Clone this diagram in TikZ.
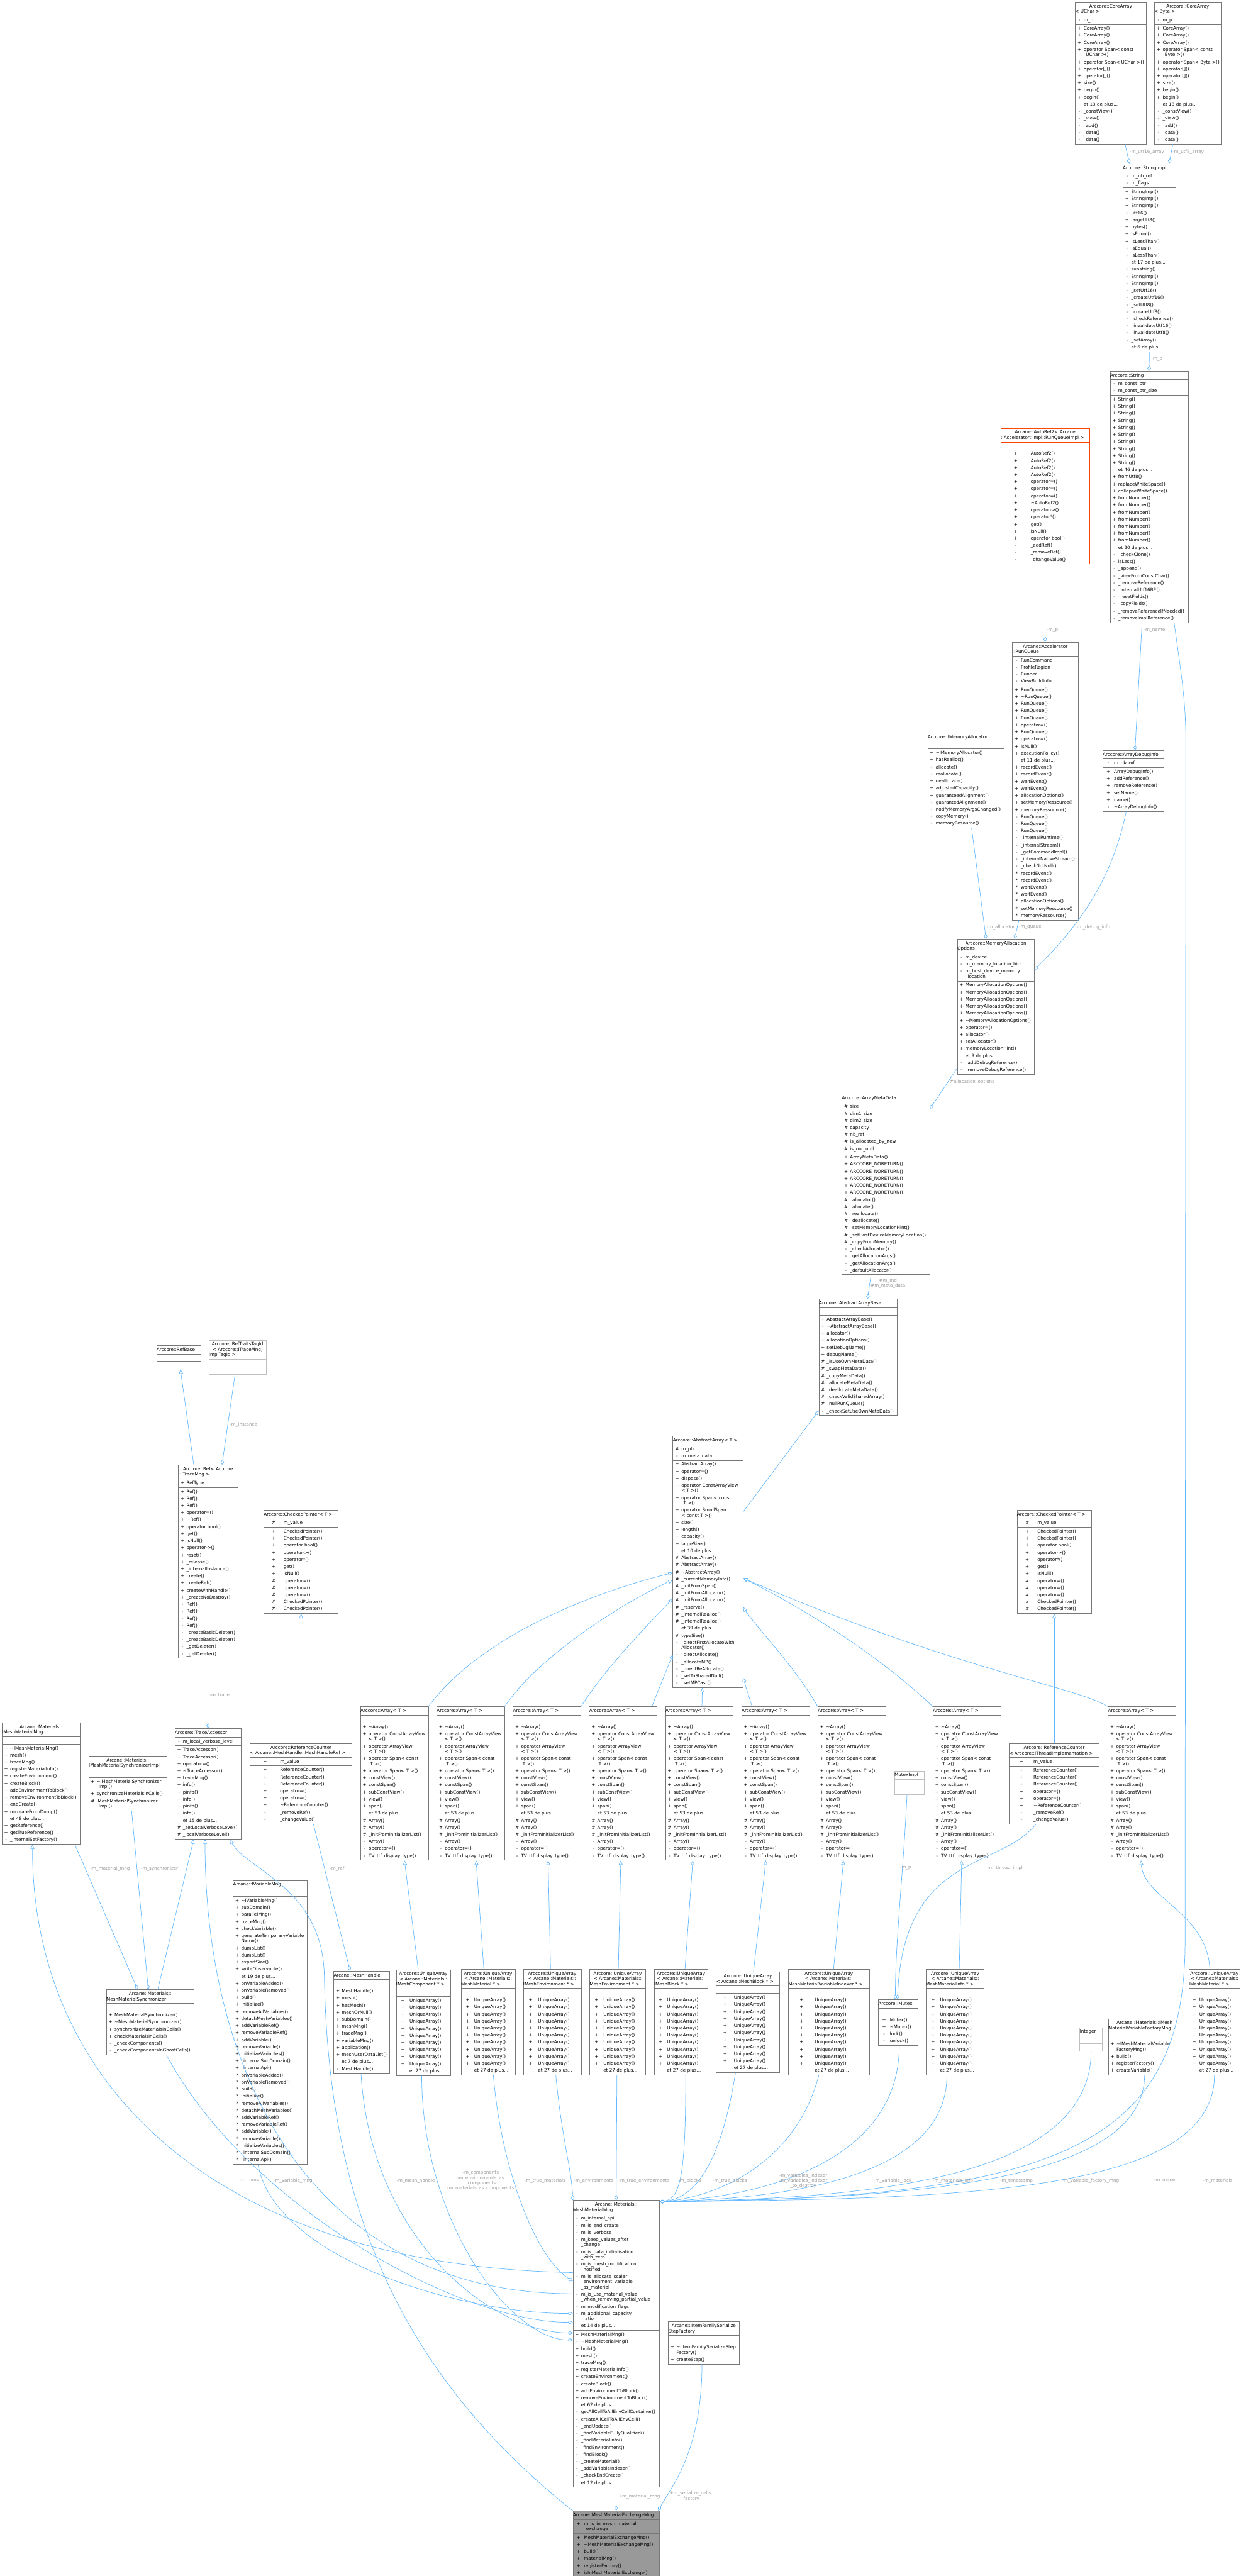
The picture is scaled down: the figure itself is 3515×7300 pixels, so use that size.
\documentclass[tikz,border=0pt]{standalone}
\usepackage{fontspec}
\newfontfamily\dxfont{DejaVu Sans}
\usetikzlibrary{arrows.meta,shapes.multipart}

\definecolor{edgeblue}{HTML}{63B8FF}
\definecolor{lblgrey}{HTML}{9A9A9A}
\definecolor{boxgrey}{HTML}{777777}
\definecolor{rootgrey}{HTML}{999999}
\definecolor{undocgrey}{HTML}{BFBFBF}
\definecolor{truncred}{HTML}{FF4500}

\newlength{\symw}
\newcommand{\mi}[2]{\mbox{\makebox[\symw][c]{#1}#2}\strut}
\newcommand{\mc}[1]{\mbox{\hspace*{\symw}#1}\strut}
\newcommand{\hd}[1]{\centering\strut#1\strut}
\newcommand{\dt}{\textasciitilde}
\newcommand{\nopart}{\rule{0pt}{17pt}}

\newcommand{\arraybody}{%
\mi{+}{\dt Array()}\\
\mi{+}{operator ConstArrayView}\\[-5pt]\mc{< T >()}\\
\mi{+}{operator ArrayView}\\[-5pt]\mc{< T >()}\\
\mi{+}{operator Span< const}\\[-5pt]\mc{\hspace{4pt}T >()}\\
\mi{+}{operator Span< T >()}\\
\mi{+}{constView()}\\
\mi{+}{constSpan()}\\
\mi{+}{subConstView()}\\
\mi{+}{view()}\\
\mi{+}{span()}\\
\mc{et 53 de plus...}\\
\mi{\#}{Array()}\\
\mi{\#}{Array()}\\
\mi{\#}{\_initFromInitializerList()}\\
\mi{-}{Array()}\\
\mi{-}{operator=()}\\
\mi{-}{TV\_ttf\_display\_type()}}

\newcommand{\uabody}{%
\mi{+}{UniqueArray()}\\
\mi{+}{UniqueArray()}\\
\mi{+}{UniqueArray()}\\
\mi{+}{UniqueArray()}\\
\mi{+}{UniqueArray()}\\
\mi{+}{UniqueArray()}\\
\mi{+}{UniqueArray()}\\
\mi{+}{UniqueArray()}\\
\mi{+}{UniqueArray()}\\
\mi{+}{UniqueArray()}\\
\mc{et 27 de plus...}}

\newcommand{\refcntbody}{%
\mi{+}{ReferenceCounter()}\\
\mi{+}{ReferenceCounter()}\\
\mi{+}{ReferenceCounter()}\\
\mi{+}{operator=()}\\
\mi{+}{operator=()}\\
\mi{+}{\dt ReferenceCounter()}\\
\mi{-}{\_removeRef()}\\
\mi{-}{\_changeValue()}}

\newcommand{\chkbody}{%
\mi{+}{CheckedPointer()}\\
\mi{+}{CheckedPointer()}\\
\mi{+}{operator bool()}\\
\mi{+}{operator->()}\\
\mi{+}{operator*()}\\
\mi{+}{get()}\\
\mi{+}{isNull()}\\
\mi{\#}{operator=()}\\
\mi{\#}{operator=()}\\
\mi{\#}{operator=()}\\
\mi{\#}{CheckedPointer()}\\
\mi{\#}{CheckedPointer()}}

\tikzset{
  symw/.code={\setlength{\symw}{#1}},
  cls/.style={rectangle split, rectangle split parts=3, draw=boxgrey, line width=1.2pt,
    inner xsep=0pt, inner ysep=1.5pt, align=left, anchor=north west,
    font=\dxfont\fontsize{12.8}{20}\selectfont},
  undoc/.style={cls, draw=undocgrey},
  trunc/.style={cls, draw=truncred},
  rootcls/.style={cls, fill=rootgrey},
  use/.style={draw=edgeblue, line width=1.3pt, -{Diamond[open, length=15pt, width=10pt]}},
  isa/.style={draw=edgeblue, line width=1.3pt, -{Triangle[open, length=13pt, width=11pt]}},
  lbl/.style={text=lblgrey, font=\dxfont\fontsize{12.8}{15}\selectfont, align=center, inner sep=1pt},
}

\begin{document}
\begin{tikzpicture}[x=1pt, y=-1pt]
\useasboundingbox (0,0) rectangle (3515,7300);

% String side
\node[cls, text width=201pt, symw=24pt] (ca_uchar) at (3046,5) {\hd{Arccore::CoreArray\\[-5pt]< UChar >}
\nodepart{two}\mi{-}{m\_p}
\nodepart{three}\mi{+}{CoreArray()}\\
\mi{+}{CoreArray()}\\
\mi{+}{CoreArray()}\\
\mi{+}{operator Span< const}\\[-5pt]\mc{\hspace{6pt}UChar >()}\\
\mi{+}{operator Span< UChar >()}\\
\mi{+}{operator[]()}\\
\mi{+}{operator[]()}\\
\mi{+}{size()}\\
\mi{+}{begin()}\\
\mi{+}{begin()}\\
\mc{et 13 de plus...}\\
\mi{-}{\_constView()}\\
\mi{-}{\_view()}\\
\mi{-}{\_add()}\\
\mi{-}{\_data()}\\
\mi{-}{\_data()}};

\node[cls, text width=190pt, symw=24pt] (ca_byte) at (3270,5) {\hd{Arccore::CoreArray\\[-5pt]< Byte >}
\nodepart{two}\mi{-}{m\_p}
\nodepart{three}\mi{+}{CoreArray()}\\
\mi{+}{CoreArray()}\\
\mi{+}{CoreArray()}\\
\mi{+}{operator Span< const}\\[-5pt]\mc{\hspace{6pt}Byte >()}\\
\mi{+}{operator Span< Byte >()}\\
\mi{+}{operator[]()}\\
\mi{+}{operator[]()}\\
\mi{+}{size()}\\
\mi{+}{begin()}\\
\mi{+}{begin()}\\
\mc{et 13 de plus...}\\
\mi{-}{\_constView()}\\
\mi{-}{\_view()}\\
\mi{-}{\_add()}\\
\mi{-}{\_data()}\\
\mi{-}{\_data()}};

\node[cls, text width=150pt, symw=24pt] (str_impl) at (3181,463) {\hd{Arccore::StringImpl}
\nodepart{two}\mi{-}{m\_nb\_ref}\\
\mi{-}{m\_flags}
\nodepart{three}\mi{+}{StringImpl()}\\
\mi{+}{StringImpl()}\\
\mi{+}{StringImpl()}\\
\mi{+}{utf16()}\\
\mi{+}{largeUtf8()}\\
\mi{+}{bytes()}\\
\mi{+}{isEqual()}\\
\mi{+}{isLessThan()}\\
\mi{+}{isEqual()}\\
\mi{+}{isLessThan()}\\
\mc{et 17 de plus...}\\
\mi{+}{substring()}\\
\mi{-}{StringImpl()}\\
\mi{-}{StringImpl()}\\
\mi{-}{\_setUtf16()}\\
\mi{-}{\_createUtf16()}\\
\mi{-}{\_setUtf8()}\\
\mi{-}{\_createUtf8()}\\
\mi{-}{\_checkReference()}\\
\mi{-}{\_invalidateUtf16()}\\
\mi{-}{\_invalidateUtf8()}\\
\mi{-}{\_setArray()}\\
\mc{et 6 de plus...}};

\node[cls, text width=221pt, symw=23pt] (string) at (3145,1051) {\hd{Arccore::String}
\nodepart{two}\mi{-}{m\_const\_ptr}\\
\mi{-}{m\_const\_ptr\_size}
\nodepart{three}\mi{+}{String()}\\
\mi{+}{String()}\\
\mi{+}{String()}\\
\mi{+}{String()}\\
\mi{+}{String()}\\
\mi{+}{String()}\\
\mi{+}{String()}\\
\mi{+}{String()}\\
\mi{+}{String()}\\
\mi{+}{String()}\\
\mc{et 46 de plus...}\\
\mi{+}{fromUtf8()}\\
\mi{+}{replaceWhiteSpace()}\\
\mi{+}{collapseWhiteSpace()}\\
\mi{+}{fromNumber()}\\
\mi{+}{fromNumber()}\\
\mi{+}{fromNumber()}\\
\mi{+}{fromNumber()}\\
\mi{+}{fromNumber()}\\
\mi{+}{fromNumber()}\\
\mi{+}{fromNumber()}\\
\mc{et 20 de plus...}\\
\mi{-}{\_checkClone()}\\
\mi{-}{isLess()}\\
\mi{-}{\_append()}\\
\mi{-}{\_viewFromConstChar()}\\
\mi{-}{\_removeReference()}\\
\mi{-}{\_internalUtf16BE()}\\
\mi{-}{\_resetFields()}\\
\mi{-}{\_copyFields()}\\
\mi{-}{\_removeReferenceIfNeeded()}\\
\mi{-}{\_removeImplReference()}};

% Accelerator / allocation side
\node[trunc, text width=252pt, symw=85pt] (autoref) at (2835,1213) {\hd{Arcane::AutoRef2< Arcane\\[-5pt]::Accelerator::impl::RunQueueImpl >}
\nodepart{two}\nopart
\nodepart{three}\mi{+}{AutoRef2()}\\
\mi{+}{AutoRef2()}\\
\mi{+}{AutoRef2()}\\
\mi{+}{AutoRef2()}\\
\mi{+}{operator=()}\\
\mi{+}{operator=()}\\
\mi{+}{operator=()}\\
\mi{+}{\dt AutoRef2()}\\
\mi{+}{operator->()}\\
\mi{+}{operator*()}\\
\mi{+}{get()}\\
\mi{+}{isNull()}\\
\mi{+}{operator bool()}\\
\mi{-}{\_addRef()}\\
\mi{-}{\_removeRef()}\\
\mi{-}{\_changeValue()}};

\node[cls, text width=186pt, symw=24pt] (runqueue) at (2868,1819) {\hd{Arcane::Accelerator\\[-5pt]::RunQueue}
\nodepart{two}\mi{-}{RunCommand}\\
\mi{-}{ProfileRegion}\\
\mi{-}{Runner}\\
\mi{-}{ViewBuildInfo}
\nodepart{three}\mi{+}{RunQueue()}\\
\mi{+}{\dt RunQueue()}\\
\mi{+}{RunQueue()}\\
\mi{+}{RunQueue()}\\
\mi{+}{RunQueue()}\\
\mi{+}{operator=()}\\
\mi{+}{RunQueue()}\\
\mi{+}{operator=()}\\
\mi{+}{isNull()}\\
\mi{+}{executionPolicy()}\\
\mc{et 11 de plus...}\\
\mi{+}{recordEvent()}\\
\mi{+}{recordEvent()}\\
\mi{+}{waitEvent()}\\
\mi{+}{waitEvent()}\\
\mi{+}{allocationOptions()}\\
\mi{+}{setMemoryRessource()}\\
\mi{+}{memoryRessource()}\\
\mi{-}{RunQueue()}\\
\mi{-}{RunQueue()}\\
\mi{-}{RunQueue()}\\
\mi{-}{\_internalRuntime()}\\
\mi{-}{\_internalStream()}\\
\mi{-}{\_getCommandImpl()}\\
\mi{-}{\_internalNativeStream()}\\
\mi{-}{\_checkNotNull()}\\
\mi{*}{recordEvent()}\\
\mi{*}{recordEvent()}\\
\mi{*}{waitEvent()}\\
\mi{*}{waitEvent()}\\
\mi{*}{allocationOptions()}\\
\mi{*}{setMemoryRessource()}\\
\mi{*}{memoryRessource()}};

\node[cls, text width=217pt, symw=23pt] (imemalloc) at (2628,2076) {\hd{Arccore::IMemoryAllocator}
\nodepart{two}\nopart
\nodepart{three}\mi{+}{\dt IMemoryAllocator()}\\
\mi{+}{hasRealloc()}\\
\mi{+}{allocate()}\\
\mi{+}{reallocate()}\\
\mi{+}{deallocate()}\\
\mi{+}{adjustedCapacity()}\\
\mi{+}{guaranteedAlignment()}\\
\mi{+}{guarantedAlignment()}\\
\mi{+}{notifyMemoryArgsChanged()}\\
\mi{+}{copyMemory()}\\
\mi{+}{memoryResource()}};

\node[cls, text width=173pt, symw=32pt] (arraydebug) at (3124,2126) {\hd{Arccore::ArrayDebugInfo}
\nodepart{two}\mi{-}{m\_nb\_ref}
\nodepart{three}\mi{+}{ArrayDebugInfo()}\\
\mi{+}{addReference()}\\
\mi{+}{removeReference()}\\
\mi{+}{setName()}\\
\mi{+}{name()}\\
\mi{-}{\dt ArrayDebugInfo()}};

\node[cls, text width=218pt, symw=23pt] (memopts) at (2712,2661) {\hd{Arccore::MemoryAllocation\\[-5pt]Options}
\nodepart{two}\mi{-}{m\_device}\\
\mi{-}{m\_memory\_location\_hint}\\
\mi{-}{m\_host\_device\_memory}\\[-5pt]\mc{\_location}
\nodepart{three}\mi{+}{MemoryAllocationOptions()}\\
\mi{+}{MemoryAllocationOptions()}\\
\mi{+}{MemoryAllocationOptions()}\\
\mi{+}{MemoryAllocationOptions()}\\
\mi{+}{MemoryAllocationOptions()}\\
\mi{+}{\dt MemoryAllocationOptions()}\\
\mi{+}{operator=()}\\
\mi{+}{allocator()}\\
\mi{+}{setAllocator()}\\
\mi{+}{memoryLocationHint()}\\
\mc{et 9 de plus...}\\
\mi{-}{\_addDebugReference()}\\
\mi{-}{\_removeDebugReference()}};

\node[cls, text width=249pt, symw=23pt] (arraymeta) at (2385,3099) {\hd{Arccore::ArrayMetaData}
\nodepart{two}\mi{\#}{size}\\
\mi{\#}{dim1\_size}\\
\mi{\#}{dim2\_size}\\
\mi{\#}{capacity}\\
\mi{\#}{nb\_ref}\\
\mi{\#}{is\_allocated\_by\_new}\\
\mi{\#}{is\_not\_null}
\nodepart{three}\mi{+}{ArrayMetaData()}\\
\mi{+}{ARCCORE\_NORETURN()}\\
\mi{+}{ARCCORE\_NORETURN()}\\
\mi{+}{ARCCORE\_NORETURN()}\\
\mi{+}{ARCCORE\_NORETURN()}\\
\mi{+}{ARCCORE\_NORETURN()}\\
\mi{\#}{\_allocator()}\\
\mi{\#}{\_allocate()}\\
\mi{\#}{\_reallocate()}\\
\mi{\#}{\_deallocate()}\\
\mi{\#}{\_setMemoryLocationHint()}\\
\mi{\#}{\_setHostDeviceMemoryLocation()}\\
\mi{\#}{\_copyFromMemory()}\\
\mi{-}{\_checkAllocator()}\\
\mi{-}{\_getAllocationArgs()}\\
\mi{-}{\_getAllocationArgs()}\\
\mi{-}{\_defaultAllocator()}};

\node[cls, text width=222pt, symw=22pt] (aabase) at (2320,3681) {\hd{Arccore::AbstractArrayBase}
\nodepart{two}\nopart
\nodepart{three}\mi{+}{AbstractArrayBase()}\\
\mi{+}{\dt AbstractArrayBase()}\\
\mi{+}{allocator()}\\
\mi{+}{allocationOptions()}\\
\mi{+}{setDebugName()}\\
\mi{+}{debugName()}\\
\mi{\#}{\_isUseOwnMetaData()}\\
\mi{\#}{\_swapMetaData()}\\
\mi{\#}{\_copyMetaData()}\\
\mi{\#}{\_allocateMetaData()}\\
\mi{\#}{\_deallocateMetaData()}\\
\mi{\#}{\_checkValidSharedArray()}\\
\mi{\#}{\_nullRunQueue()}\\
\mi{-}{\_checkSetUseOwnMetaData()}};

\node[cls, text width=198pt, symw=24pt] (aarray) at (1906,4069) {\hd{Arccore::AbstractArray< T >}
\nodepart{two}\mi{\#}{m\_ptr}\\
\mi{-}{m\_meta\_data}
\nodepart{three}\mi{+}{AbstractArray()}\\
\mi{+}{operator=()}\\
\mi{+}{dispose()}\\
\mi{+}{operator ConstArrayView}\\[-5pt]\mc{< T >()}\\
\mi{+}{operator Span< const}\\[-5pt]\mc{\hspace{6pt}T >()}\\
\mi{+}{operator SmallSpan}\\[-5pt]\mc{< const T >()}\\
\mi{+}{size()}\\
\mi{+}{length()}\\
\mi{+}{capacity()}\\
\mi{+}{largeSize()}\\
\mc{et 10 de plus...}\\
\mi{\#}{AbstractArray()}\\
\mi{\#}{AbstractArray()}\\
\mi{\#}{\dt AbstractArray()}\\
\mi{\#}{\_currentMemoryInfo()}\\
\mi{\#}{\_initFromSpan()}\\
\mi{\#}{\_initFromAllocator()}\\
\mi{\#}{\_initFromAllocator()}\\
\mi{\#}{\_reserve()}\\
\mi{\#}{\_internalRealloc()}\\
\mi{\#}{\_internalRealloc()}\\
\mc{et 39 de plus...}\\
\mi{\#}{typeSize()}\\
\mi{-}{\_directFirstAllocateWith}\\[-5pt]\mc{Allocator()}\\
\mi{-}{\_directAllocate()}\\
\mi{-}{\_allocateMP()}\\
\mi{-}{\_directReAllocate()}\\
\mi{-}{\_setToSharedNull()}\\
\mi{-}{\_setMPCast()}};

% Ref / trace side
\node[cls, text width=125pt] (refbase) at (443,3812) {\hd{Arccore::RefBase}
\nodepart{two}\nopart
\nodepart{three}\nopart};

\node[undoc, text width=163pt] (reftraits) at (591,3797) {\hd{Arccore::RefTraitsTagId\\[-5pt]< Arccore::ITraceMng,\\[-5pt]ImplTagId >}
\nodepart{two}\nopart
\nodepart{three}\nopart};

\node[cls, text width=168pt, symw=23pt] (ref) at (505,4151) {\hd{Arccore::Ref< Arccore\\[-5pt]::ITraceMng >}
\nodepart{two}\mi{+}{RefType}
\nodepart{three}\mi{+}{Ref()}\\
\mi{+}{Ref()}\\
\mi{+}{Ref()}\\
\mi{+}{operator=()}\\
\mi{+}{\dt Ref()}\\
\mi{+}{operator bool()}\\
\mi{+}{get()}\\
\mi{+}{isNull()}\\
\mi{+}{operator->()}\\
\mi{+}{reset()}\\
\mi{+}{\_release()}\\
\mi{+}{\_internalInstance()}\\
\mi{+}{create()}\\
\mi{+}{createRef()}\\
\mi{+}{createWithHandle()}\\
\mi{+}{\_createNoDestroy()}\\
\mi{-}{Ref()}\\
\mi{-}{Ref()}\\
\mi{-}{Ref()}\\
\mi{-}{Ref()}\\
\mi{-}{\_createBasicDeleter()}\\
\mi{-}{\_createBasicDeleter()}\\
\mi{-}{\_getDeleter()}\\
\mi{-}{\_getDeleter()}};

\node[cls, text width=210pt, symw=56pt] (chkptr1) at (747,4279) {\hd{Arccore::CheckedPointer< T >}
\nodepart{two}\mi{\#}{m\_value}
\nodepart{three}\chkbody};

\node[cls, text width=211pt, symw=58pt] (chkptr2) at (2881,4279) {\hd{Arccore::CheckedPointer< T >}
\nodepart{two}\mi{\#}{m\_value}
\nodepart{three}\chkbody};

\node[cls, text width=289pt, symw=85pt] (refcnt_mh) at (708,4940) {\hd{Arccore::ReferenceCounter\\[-5pt]< Arcane::MeshHandle::MeshHandleRef >}
\nodepart{two}\mi{+}{m\_value}
\nodepart{three}\refcntbody};

\node[cls, text width=255pt, symw=69pt] (refcnt_th) at (2859,4941) {\hd{Arccore::ReferenceCounter\\[-5pt]< Arccore::IThreadImplementation >}
\nodepart{two}\mi{+}{m\_value}
\nodepart{three}\refcntbody};

\node[cls, text width=188pt, symw=23pt] (traceacc) at (495,4898) {\hd{Arccore::TraceAccessor}
\nodepart{two}\mi{-}{m\_local\_verbose\_level}
\nodepart{three}\mi{+}{TraceAccessor()}\\
\mi{+}{TraceAccessor()}\\
\mi{+}{operator=()}\\
\mi{+}{\dt TraceAccessor()}\\
\mi{+}{traceMng()}\\
\mi{+}{info()}\\
\mi{+}{pinfo()}\\
\mi{+}{info()}\\
\mi{+}{pinfo()}\\
\mi{+}{info()}\\
\mc{et 15 de plus...}\\
\mi{\#}{\_setLocalVerboseLevel()}\\
\mi{\#}{\_localVerboseLevel()}};

\node[cls, text width=221pt, symw=23pt] (imeshmatmng) at (5,4881) {\hd{Arcane::Materials::\\[-5pt]IMeshMaterialMng}
\nodepart{two}\nopart
\nodepart{three}\mi{+}{\dt IMeshMaterialMng()}\\
\mi{+}{mesh()}\\
\mi{+}{traceMng()}\\
\mi{+}{registerMaterialInfo()}\\
\mi{+}{createEnvironment()}\\
\mi{+}{createBlock()}\\
\mi{+}{addEnvironmentToBlock()}\\
\mi{+}{removeEnvironmentToBlock()}\\
\mi{+}{endCreate()}\\
\mi{+}{recreateFromDump()}\\
\mc{et 48 de plus...}\\
\mi{+}{getReference()}\\
\mi{+}{getTrueReference()}\\
\mi{-}{\_internalSetFactory()}};

\node[cls, text width=221pt, symw=22pt] (imeshsync) at (251,4976) {\hd{Arcane::Materials::\\[-5pt]IMeshMaterialSynchronizerImpl}
\nodepart{two}\nopart
\nodepart{three}\mi{+}{\dt IMeshMaterialSynchronizer}\\[-5pt]\mc{\hspace{6pt}Impl()}\\
\mi{+}{synchronizeMaterialsInCells()}\\
\mi{\#}{IMeshMaterialSynchronizer}\\[-5pt]\mc{\hspace{6pt}Impl()}};

\node[cls, text width=209pt, symw=23pt] (ivarmng) at (660,5328) {\hd{Arcane::IVariableMng}
\nodepart{two}\nopart
\nodepart{three}\mi{+}{\dt IVariableMng()}\\
\mi{+}{subDomain()}\\
\mi{+}{parallelMng()}\\
\mi{+}{traceMng()}\\
\mi{+}{checkVariable()}\\
\mi{+}{generateTemporaryVariable}\\[-5pt]\mc{Name()}\\
\mi{+}{dumpList()}\\
\mi{+}{dumpList()}\\
\mi{+}{exportSize()}\\
\mi{+}{writeObservable()}\\
\mc{et 19 de plus...}\\
\mi{+}{onVariableAdded()}\\
\mi{+}{onVariableRemoved()}\\
\mi{+}{build()}\\
\mi{+}{initialize()}\\
\mi{+}{removeAllVariables()}\\
\mi{+}{detachMeshVariables()}\\
\mi{+}{addVariableRef()}\\
\mi{+}{removeVariableRef()}\\
\mi{+}{addVariable()}\\
\mi{+}{removeVariable()}\\
\mi{+}{initializeVariables()}\\
\mi{+}{\_internalSubDomain()}\\
\mi{+}{\_internalApi()}\\
\mi{*}{onVariableAdded()}\\
\mi{*}{onVariableRemoved()}\\
\mi{*}{build()}\\
\mi{*}{initialize()}\\
\mi{*}{removeAllVariables()}\\
\mi{*}{detachMeshVariables()}\\
\mi{*}{addVariableRef()}\\
\mi{*}{removeVariableRef()}\\
\mi{*}{addVariable()}\\
\mi{*}{removeVariable()}\\
\mi{*}{initializeVariables()}\\
\mi{*}{\_internalSubDomain()}\\
\mi{*}{\_internalApi()}};

\node[cls, text width=248pt, symw=23pt] (mms) at (301,5638) {\hd{Arcane::Materials::\\[-5pt]MeshMaterialSynchronizer}
\nodepart{two}\nopart
\nodepart{three}\mi{+}{MeshMaterialSynchronizer()}\\
\mi{+}{\dt MeshMaterialSynchronizer()}\\
\mi{+}{synchronizeMaterialsInCells()}\\
\mi{+}{checkMaterialsInCells()}\\
\mi{-}{\_checkComponents()}\\
\mi{-}{\_checkComponentsInGhostCells()}};

\node[cls, text width=158pt, symw=23pt] (meshhandle) at (945,5585) {\hd{Arcane::MeshHandle}
\nodepart{two}\nopart
\nodepart{three}\mi{+}{MeshHandle()}\\
\mi{+}{mesh()}\\
\mi{+}{hasMesh()}\\
\mi{+}{meshOrNull()}\\
\mi{+}{subDomain()}\\
\mi{+}{meshMng()}\\
\mi{+}{traceMng()}\\
\mi{+}{variableMng()}\\
\mi{+}{application()}\\
\mi{+}{meshUserDataList()}\\
\mc{et 7 de plus...}\\
\mi{-}{MeshHandle()}};

% Arrays
\node[cls, text width=192pt, symw=23pt] (arr1) at (1021,4836) {\hd{Arccore::Array< T >}\nodepart{two}\nopart\nodepart{three}\arraybody};
\node[cls, text width=192pt, symw=23pt] (arr2) at (1237,4836) {\hd{Arccore::Array< T >}\nodepart{two}\nopart\nodepart{three}\arraybody};
\node[cls, text width=192pt, symw=23pt] (arr3) at (1453,4836) {\hd{Arccore::Array< T >}\nodepart{two}\nopart\nodepart{three}\arraybody};
\node[cls, text width=192pt, symw=23pt] (arr4) at (1669,4836) {\hd{Arccore::Array< T >}\nodepart{two}\nopart\nodepart{three}\arraybody};
\node[cls, text width=192pt, symw=23pt] (arr5) at (1885,4836) {\hd{Arccore::Array< T >}\nodepart{two}\nopart\nodepart{three}\arraybody};
\node[cls, text width=192pt, symw=23pt] (arr6) at (2101,4836) {\hd{Arccore::Array< T >}\nodepart{two}\nopart\nodepart{three}\arraybody};
\node[cls, text width=192pt, symw=23pt] (arr7) at (2317,4836) {\hd{Arccore::Array< T >}\nodepart{two}\nopart\nodepart{three}\arraybody};
\node[cls, text width=192pt, symw=23pt] (arr8) at (2643,4836) {\hd{Arccore::Array< T >}\nodepart{two}\nopart\nodepart{three}\arraybody};
\node[cls, text width=192pt, symw=23pt] (arr9) at (3139,4836) {\hd{Arccore::Array< T >}\nodepart{two}\nopart\nodepart{three}\arraybody};

\node[undoc, text width=84pt] (mutex_impl) at (2534,5018) {\hd{MutexImpl}
\nodepart{two}\nopart
\nodepart{three}\nopart};

% UniqueArrays
\node[cls, text width=154pt, symw=38pt] (ua_comp) at (1122,5581) {\hd{Arccore::UniqueArray\\[-5pt]< Arcane::Materials::\\[-5pt]IMeshComponent * >}\nodepart{two}\nopart\nodepart{three}\uabody};
\node[cls, text width=153pt, symw=37pt] (ua_mm) at (1306,5580) {\hd{Arccore::UniqueArray\\[-5pt]< Arcane::Materials::\\[-5pt]MeshMaterial * >}\nodepart{two}\nopart\nodepart{three}\uabody};
\node[cls, text width=164pt, symw=42pt] (ua_ienv) at (1482,5580) {\hd{Arccore::UniqueArray\\[-5pt]< Arcane::Materials::\\[-5pt]IMeshEnvironment * >}\nodepart{two}\nopart\nodepart{three}\uabody};
\node[cls, text width=159pt, symw=39pt] (ua_env) at (1670,5580) {\hd{Arccore::UniqueArray\\[-5pt]< Arcane::Materials::\\[-5pt]MeshEnvironment * >}\nodepart{two}\nopart\nodepart{three}\uabody};
\node[cls, text width=152pt, symw=36pt] (ua_iblock) at (1853,5580) {\hd{Arccore::UniqueArray\\[-5pt]< Arcane::Materials::\\[-5pt]IMeshBlock * >}\nodepart{two}\nopart\nodepart{three}\uabody};
\node[cls, text width=179pt, symw=50pt] (ua_block) at (2029,5588) {\hd{Arccore::UniqueArray\\[-5pt]< Arcane::MeshBlock * >}\nodepart{two}\nopart\nodepart{three}\uabody};
\node[cls, text width=230pt, symw=75pt] (ua_indexer) at (2233,5580) {\hd{Arccore::UniqueArray\\[-5pt]< Arcane::Materials::\\[-5pt]MeshMaterialVariableIndexer * >}\nodepart{two}\nopart\nodepart{three}\uabody};
\node[cls, text width=112pt, symw=33pt] (mutex) at (2488,5666) {\hd{Arccore::Mutex}
\nodepart{two}\nopart
\nodepart{three}\mi{+}{Mutex()}\\
\mi{+}{\dt Mutex()}\\
\mi{-}{lock()}\\
\mi{-}{unlock()}};
\node[cls, text width=165pt, symw=40pt] (ua_matinfo) at (2623,5580) {\hd{Arccore::UniqueArray\\[-5pt]< Arcane::Materials::\\[-5pt]MeshMaterialInfo * >}\nodepart{two}\nopart\nodepart{three}\uabody};
\node[undoc, text width=64pt] (integer) at (3059,5745) {\hd{Integer}
\nodepart{two}\nopart
\nodepart{three}\nopart};
\node[cls, text width=205pt, symw=23pt] (varfactmng) at (3140,5720) {\hd{Arcane::Materials::IMesh\\[-5pt]MaterialVariableFactoryMng}
\nodepart{two}\nopart
\nodepart{three}\mi{+}{\dt IMeshMaterialVariable}\\[-5pt]\mc{FactoryMng()}\\
\mi{+}{build()}\\
\mi{+}{registerFactory()}\\
\mi{+}{createVariable()}};
\node[cls, text width=145pt, symw=30pt] (ua_imat) at (3368,5580) {\hd{Arccore::UniqueArray\\[-5pt]< Arcane::Materials::\\[-5pt]IMeshMaterial * >}\nodepart{two}\nopart\nodepart{three}\uabody};

% Main class and root
\node[cls, text width=245pt, symw=23pt] (mainmng) at (1623,6235) {\hd{Arcane::Materials::\\[-5pt]MeshMaterialMng}
\nodepart{two}\mi{-}{m\_internal\_api}\\
\mi{-}{m\_is\_end\_create}\\
\mi{-}{m\_is\_verbose}\\
\mi{-}{m\_keep\_values\_after}\\[-5pt]\mc{\_change}\\
\mi{-}{m\_is\_data\_initialisation}\\[-5pt]\mc{\_with\_zero}\\
\mi{-}{m\_is\_mesh\_modification}\\[-5pt]\mc{\_notified}\\
\mi{-}{m\_is\_allocate\_scalar}\\[-5pt]\mc{\_environment\_variable}\\[-5pt]\mc{\_as\_material}\\
\mi{-}{m\_is\_use\_material\_value}\\[-5pt]\mc{\_when\_removing\_partial\_value}\\
\mi{-}{m\_modification\_flags}\\
\mi{-}{m\_additional\_capacity}\\[-5pt]\mc{\_ratio}\\
\mc{et 14 de plus...}
\nodepart{three}\mi{+}{MeshMaterialMng()}\\
\mi{+}{\dt MeshMaterialMng()}\\
\mi{+}{build()}\\
\mi{+}{mesh()}\\
\mi{+}{traceMng()}\\
\mi{+}{registerMaterialInfo()}\\
\mi{+}{createEnvironment()}\\
\mi{+}{createBlock()}\\
\mi{+}{addEnvironmentToBlock()}\\
\mi{+}{removeEnvironmentToBlock()}\\
\mc{et 62 de plus...}\\
\mi{-}{getAllCellToAllEnvCellContainer()}\\
\mi{-}{createAllCellToAllEnvCell()}\\
\mi{-}{\_endUpdate()}\\
\mi{-}{\_findVariableFullyQualified()}\\
\mi{-}{\_findMaterialInfo()}\\
\mi{-}{\_findEnvironment()}\\
\mi{-}{\_findBlock()}\\
\mi{-}{\_createMaterial()}\\
\mi{-}{\_addVariableIndexer()}\\
\mi{-}{\_checkEndCreate()}\\
\mc{et 12 de plus...}};

\node[cls, text width=201pt, symw=23pt] (factory) at (1893,6579) {\hd{Arcane::IItemFamilySerialize\\[-5pt]StepFactory}
\nodepart{two}\nopart
\nodepart{three}\mi{+}{\dt IItemFamilySerializeStep}\\[-5pt]\mc{Factory()}\\
\mi{+}{createStep()}};

\node[rootcls, text width=245pt, symw=31pt] (root) at (1623,7115) {\hd{Arcane::MeshMaterialExchangeMng}
\nodepart{two}\mi{+}{m\_is\_in\_mesh\_material}\\[-5pt]\mc{\_exchange}
\nodepart{three}\mi{+}{MeshMaterialExchangeMng()}\\
\mi{+}{\dt MeshMaterialExchangeMng()}\\
\mi{+}{build()}\\
\mi{+}{materialMng()}\\
\mi{+}{registerFactory()}\\
\mi{+}{isInMeshMaterialExchange()}};

% Way points of the long String edge
\coordinate (strdown) at (3360,2100);
\coordinate (strlow) at (3358,5500);

% Connectors: top part
\draw[use] ([xshift=142pt]ca_uchar.south west) -- ([xshift=19pt]str_impl.north west);
\draw[use] ([xshift=53pt]ca_byte.south west) -- ([xshift=132pt]str_impl.north west);
\draw[use] (str_impl.south) -- (string.north);
\draw[use] ([xshift=91pt]string.south west) -- ([xshift=92pt]arraydebug.north west);
\draw[use] ([xshift=182pt]string.south west) .. controls (3345,1900) and (3360,1980) .. (strdown) -- (strlow)
  .. controls (3358,6080) and (3000,6231) .. ([yshift=-4pt]mainmng.north east);
\draw[use] (autoref.south) -- (runqueue.north);
\draw[use] ([xshift=125pt]imemalloc.south west) -- ([xshift=82pt]memopts.north west);
\draw[use] ([xshift=19pt]runqueue.south west) -- ([xshift=163pt]memopts.north west);
\draw[use] ([xshift=67pt]arraydebug.south west) .. controls (3150,2500) and (3050,2630) .. ([yshift=-87pt]memopts.north east);
\draw[use] ([yshift=-366pt]memopts.north west) -- ([yshift=-43pt]arraymeta.north east);
\draw[use] ([xshift=83pt]arraymeta.south west) -- ([xshift=138pt]aabase.north west);
\draw[isa] ([yshift=-216pt]aarray.north east) -- ([yshift=-316pt]aabase.north west);

% Connectors: arrays
\draw[isa] (arr1.north east) .. controls (1350,4650) and (1650,4520) .. ([yshift=-388pt]aarray.north west);
\draw[isa] (arr2.north east) .. controls (1520,4700) and (1750,4550) .. ([yshift=-408pt]aarray.north west);
\draw[isa] (arr3.north east) .. controls (1720,4720) and (1850,4590) .. ([yshift=-461pt]aarray.north west);
\draw[isa] ([xshift=178pt]arr4.north west) -- ([yshift=-620pt]aarray.north west);
\draw[isa] ([xshift=104pt]arr5.north west) -- ([xshift=84pt]aarray.south west);
\draw[isa] ([xshift=30pt]arr6.north west) -- ([yshift=-685pt]aarray.north east);
\draw[isa] (arr7.north west) .. controls (2250,4720) and (2150,4620) .. ([yshift=-485pt]aarray.north east);
\draw[isa] (arr8.north west) .. controls (2500,4700) and (2300,4570) .. ([yshift=-403pt]aarray.north east);
\draw[isa] (arr9.north west) .. controls (3050,4780) and (2700,4730) .. ([yshift=-403pt]aarray.north east);

% Connectors: ref / trace
\draw[isa] ([xshift=44pt]ref.north west) -- ([xshift=68pt]refbase.south west);
\draw[use] ([xshift=75pt]reftraits.south west) -- ([xshift=124pt]ref.north west);
\draw[use] (ref.south) -- (ref.south |- traceacc.north);
\draw[isa] (refcnt_mh.north) -- (refcnt_mh.north |- chkptr1.south);
\draw[isa] (refcnt_th.north) -- (refcnt_th.north |- chkptr2.south);
\draw[use] ([xshift=36pt]mutex_impl.south west) .. controls (2560,5300) and (2537,5500) .. ([xshift=49pt]mutex.north west);
\draw[use] ([xshift=76pt]refcnt_th.south west) .. controls (2830,5300) and (2560,5250) .. ([xshift=55pt]mutex.north west);
\draw[use] ([xshift=180pt]refcnt_mh.south west) -- ([xshift=47pt]meshhandle.north west);
\draw[use] ([xshift=207pt]imeshmatmng.south west) -- ([xshift=89pt]mms.north west);
\draw[use] ([xshift=122pt]imeshsync.south west) -- ([xshift=119pt]mms.north west);
\draw[isa] ([xshift=146pt]mms.north west) -- ([xshift=54pt]traceacc.south west);

% Connectors: unique arrays
\draw[isa] ([xshift=63pt]ua_comp.north west) -- ([xshift=125pt]arr1.south west);
\draw[isa] ([xshift=65pt]ua_mm.north west) -- ([xshift=112pt]arr2.south west);
\draw[isa] ([xshift=78pt]ua_ienv.north west) -- ([xshift=100pt]arr3.south west);
\draw[isa] ([xshift=82pt]ua_env.north west) -- ([xshift=90pt]arr4.south west);
\draw[isa] ([xshift=88pt]ua_iblock.north west) -- ([xshift=78pt]arr5.south west);
\draw[isa] ([xshift=106pt]ua_block.north west) -- ([xshift=69pt]arr6.south west);
\draw[isa] ([xshift=129pt]ua_indexer.north west) -- ([xshift=73pt]arr7.south west);
\draw[isa] ([xshift=95pt]ua_matinfo.north west) -- ([xshift=82pt]arr8.south west);
\draw[isa] ([xshift=60pt]ua_imat.north west) .. controls (3420,5420) and (3240,5380) .. ([xshift=94pt]arr9.south west);

% Connectors into the main class
\draw[use] ([xshift=73pt]ua_comp.south west) .. controls (1195,6300) and (1450,6631) .. ([yshift=-396pt]mainmng.north west);
\draw[use] ([xshift=92pt]ua_mm.south west) .. controls (1420,6150) and (1520,6400) .. ([yshift=-229pt]mainmng.north west);
\draw[use] ([xshift=93pt]ua_ienv.south west) .. controls (1590,6050) and (1620,6150) .. (mainmng.north west);
\draw[use] ([xshift=78pt]ua_env.south west) -- ([xshift=123pt]mainmng.north west);
\draw[use] ([xshift=90pt]ua_iblock.south west) .. controls (1943,6150) and (1930,6231) .. ([yshift=-4pt]mainmng.north east);
\draw[use] ([xshift=55pt]ua_block.south west) .. controls (2040,6150) and (1960,6231) .. ([yshift=-4pt]mainmng.north east);
\draw[use] ([xshift=87pt]ua_indexer.south west) .. controls (2250,6150) and (2000,6231) .. ([yshift=-4pt]mainmng.north east);
\draw[use] ([xshift=60pt]mutex.south west) .. controls (2548,6150) and (2100,6231) .. ([yshift=-4pt]mainmng.north east);
\draw[use] ([xshift=60pt]ua_matinfo.south west) .. controls (2683,6180) and (2200,6231) .. ([yshift=-4pt]mainmng.north east);
\draw[use] (integer.south) .. controls (3091,6190) and (2400,6231) .. ([yshift=-4pt]mainmng.north east);
\draw[use] (varfactmng.south) .. controls (3242,6200) and (2500,6231) .. ([yshift=-4pt]mainmng.north east);
\draw[use] (ua_imat.south) .. controls (3440,6220) and (2700,6231) .. ([yshift=-4pt]mainmng.north east);
\draw[use] ([xshift=71pt]ivarmng.south west) .. controls (780,6400) and (1300,6556) .. ([yshift=-321pt]mainmng.north west);
\draw[use] ([xshift=171pt]mms.south west) .. controls (700,6250) and (1300,6581) .. ([yshift=-346pt]mainmng.north west);
\draw[use] ([xshift=78pt]meshhandle.south west) .. controls (1050,6350) and (1400,6611) .. ([yshift=-376pt]mainmng.north west);
\draw[isa] ([yshift=-205pt]mainmng.north west) .. controls (600,6420) and (92,5900) .. ([xshift=87pt]imeshmatmng.south west);
\draw[isa] ([yshift=-265pt]mainmng.north west) .. controls (900,6500) and (581,5900) .. ([xshift=86pt]traceacc.south west);
\draw[isa] (root.north west) .. controls (1100,6700) and (930,6200) .. (919,5600)
  .. controls (915,5350) and (700,5300) .. ([xshift=156pt]traceacc.south west);
\draw[use] (mainmng.south) -- (root.north);
\draw[use] ([xshift=96pt]factory.south west) .. controls (1989,6950) and (1900,7050) .. ([xshift=-4pt]root.north east);

% Labels
\node[lbl, anchor=west] (l_utf16) at (3200,430) {-m\_utf16\_array};
\node[lbl, anchor=west] (l_utf8) at (3321,430) {-m\_utf8\_array};
\node[lbl, anchor=west] (l_strp) at (3261,1018) {-m\_p};
\node[lbl, anchor=west] (l_name) at (3240,1786) {-m\_name};
\node[lbl, anchor=west] (l_refp) at (2965,1786) {-m\_p};
\node[lbl, anchor=west] (l_alloc) at (2795,2628) {-m\_allocator};
\node[lbl, anchor=west] (l_queue) at (2886,2628) {-m\_queue};
\node[lbl, anchor=west] (l_debug) at (3050,2628) {-m\_debug\_info};
\node[lbl, anchor=west] (l_allocopt) at (2690,3066) {\#allocation\_options};
\node[lbl] (l_md) at (2516,3637) {\#m\_md\\\#m\_meta\_data};
\node[lbl, anchor=west] (l_inst) at (650,4037) {-m\_instance};
\node[lbl, anchor=west] (l_trace) at (593,4804) {-m\_trace};
\node[lbl, anchor=west] (l_mutexp) at (2549,5294) {-m\_p};
\node[lbl, anchor=west] (l_thread) at (2797,5294) {-m\_thread\_impl};
\node[lbl] (l_matmngsync) at (312,5296) {-m\_material\_mng};
\node[lbl] (l_sync) at (452,5296) {-m\_synchronizer};
\node[lbl] (l_ref) at (955,5296) {-m\_ref};
\node[lbl] (l_mms) at (706,6180) {-m\_mms};
\node[lbl] (l_varmng) at (830,6180) {-m\_variable\_mng};
\node[lbl] (l_handle) at (1178,6180) {-m\_mesh\_handle};
\node[lbl] (l_comp) at (1362,6180) {-m\_components\\-m\_environments\_as\\\_components\\-m\_materials\_as\_components};
\node[lbl] (l_truemat) at (1544,6180) {-m\_true\_materials};
\node[lbl] (l_env) at (1682,6180) {-m\_environments};
\node[lbl] (l_trueenv) at (1825,6180) {-m\_true\_environments};
\node[lbl] (l_blocks) at (1954,6180) {-m\_blocks};
\node[lbl] (l_trueblocks) at (2068,6180) {-m\_true\_blocks};
\node[lbl] (l_indexer) at (2276,6180) {-m\_variables\_indexer\\-m\_variables\_indexer\\\_to\_destroy};
\node[lbl] (l_lock) at (2529,6180) {-m\_variable\_lock};
\node[lbl] (l_matinfo) at (2700,6180) {-m\_materials\_info};
\node[lbl] (l_time) at (2880,6180) {-m\_timestamp};
\node[lbl] (l_varfact) at (3090,6180) {-m\_variable\_factory\_mng};
\node[lbl] (l_strname) at (3300,6180) {-m\_name};
\node[lbl] (l_mats) at (3450,6180) {-m\_materials};
\node[lbl, anchor=west] (l_matmng) at (1751,7074) {+m\_material\_mng};
\node[lbl] (l_factory) at (1956,7074) {+m\_serialize\_cells\\\_factory};

\end{tikzpicture}
\end{document}
